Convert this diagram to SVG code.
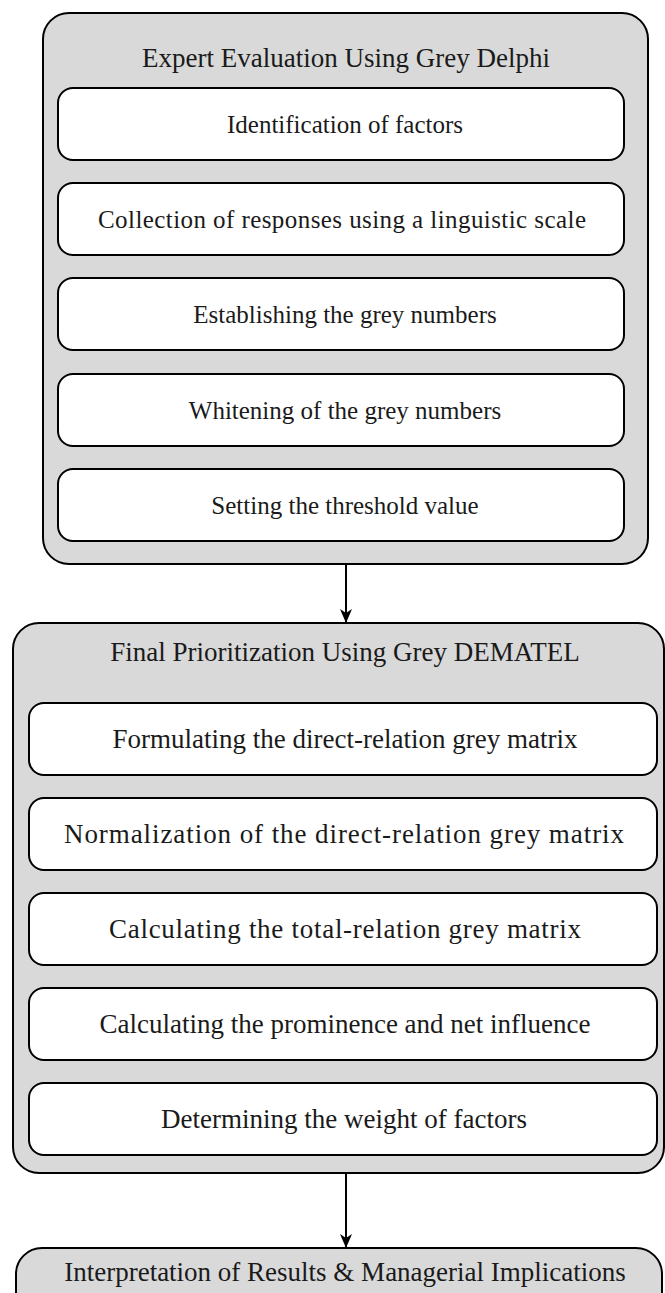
<svg xmlns="http://www.w3.org/2000/svg" width="665" height="1293" viewBox="0 0 665 1293">
<defs>
<style>
.outer{fill:#d9d9d9;stroke:#000;stroke-width:2}
.inner{fill:#fff;stroke:#000;stroke-width:2}
.t{font-family:"Liberation Serif","Times New Roman",serif;font-size:25px;fill:#1a1a1a;text-anchor:middle}
.l{font-size:27px}
.conn{stroke:#000;stroke-width:2;fill:none}
</style>
<marker id="ah" markerWidth="14" markerHeight="12" refX="13" refY="6" orient="auto" markerUnits="userSpaceOnUse" viewBox="0 0 14 12">
<path d="M0,0 L14,6 L0,12 L4,6 Z" fill="#000"/>
</marker>
</defs>
<g id="group-delphi">
<rect class="outer" x="43" y="13" width="605" height="551" rx="26"/>
<text class="t l" x="346" y="67">Expert Evaluation Using Grey Delphi</text>
</g>
<g id="d1"><rect class="inner" x="58" y="88" width="566" height="72" rx="15"/><text class="t" x="345" y="133">Identification of factors</text></g>
<g id="d2"><rect class="inner" x="58" y="183" width="566" height="72" rx="15"/><text class="t" x="342" y="228" textLength="488" lengthAdjust="spacing">Collection of responses using a linguistic scale</text></g>
<g id="d3"><rect class="inner" x="58" y="278" width="566" height="72" rx="15"/><text class="t" x="345" y="323">Establishing the grey numbers</text></g>
<g id="d4"><rect class="inner" x="58" y="374" width="566" height="72" rx="15"/><text class="t" x="345" y="419">Whitening of the grey numbers</text></g>
<g id="d5"><rect class="inner" x="58" y="469" width="566" height="72" rx="15"/><text class="t" x="345" y="514">Setting the threshold value</text></g>
<g id="group-dematel">
<rect class="outer" x="13" y="623" width="651" height="550" rx="26"/>
<text class="t l" x="345" y="661">Final Prioritization Using Grey DEMATEL</text>
</g>
<g id="m1"><rect class="inner" x="29" y="703" width="628" height="72" rx="15"/><text class="t l" x="345" y="748">Formulating the direct-relation grey matrix</text></g>
<g id="m2"><rect class="inner" x="29" y="798" width="628" height="72" rx="15"/><text class="t l" x="344" y="843" textLength="560" lengthAdjust="spacing">Normalization of the direct-relation grey matrix</text></g>
<g id="m3"><rect class="inner" x="29" y="893" width="628" height="72" rx="15"/><text class="t l" x="345" y="938" textLength="472" lengthAdjust="spacing">Calculating the total-relation grey matrix</text></g>
<g id="m4"><rect class="inner" x="29" y="988" width="628" height="72" rx="15"/><text class="t l" x="345" y="1033">Calculating the prominence and net influence</text></g>
<g id="m5"><rect class="inner" x="29" y="1083" width="628" height="72" rx="15"/><text class="t l" x="344" y="1128">Determining the weight of factors</text></g>
<g id="final">
<rect class="outer" x="16" y="1248" width="646" height="90" rx="26"/>
<text class="t l" x="345" y="1281">Interpretation of Results &amp; Managerial Implications</text>
</g>
<g id="connectors">
<line class="conn" x1="346" y1="564" x2="346" y2="622" marker-end="url(#ah)"/>
<line class="conn" x1="346" y1="1173" x2="346" y2="1247" marker-end="url(#ah)"/>
</g>
</svg>
